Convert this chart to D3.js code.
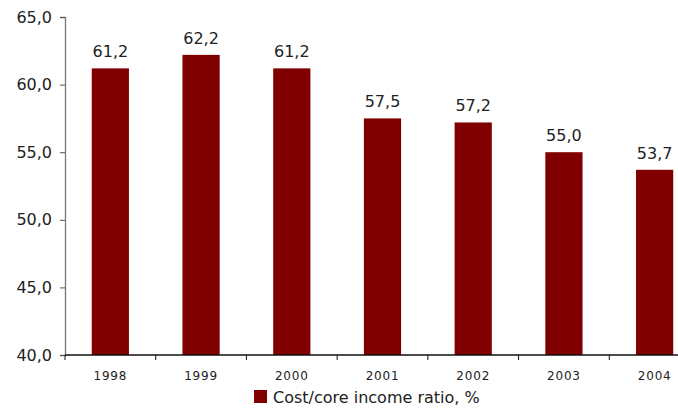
<!DOCTYPE html>
<html>
<head>
<meta charset="utf-8">
<script src="https://cdn.jsdelivr.net/npm/d3@7"></script>
<style>
  html, body { margin: 0; padding: 0; background: #fff; }
  svg text { font-family: "DejaVu Sans", sans-serif; fill: #222; }
</style>
</head>
<body>
<svg id="chart" width="678" height="412"></svg>
<script>
// Cost/core income ratio by year
const years = ["1998", "1999", "2000", "2001", "2002", "2003", "2004"];
const ratios = [61.2, 62.2, 61.2, 57.5, 57.2, 55.0, 53.7];
const yTicks = [40, 45, 50, 55, 60, 65];
const seriesName = "Cost/core income ratio, %";

const fmt = v => d3.format(".1f")(v).replace(".", ",");
const barColor = "#800000";

const svg = d3.select("#chart");
const plotLeft = 65, plotTop = 17, plotBottom = 355, plotRight = 700;

const x = d3.scaleBand().domain(years).range([plotLeft, plotRight]).paddingInner(0.59).paddingOuter(0.295);
const band = d3.scaleBand().domain(years).range([plotLeft, plotRight]);
const y = d3.scaleLinear().domain([40, 65]).range([plotBottom, plotTop]);

// bars
svg.append("g").selectAll("rect").data(years).join("rect")
  .attr("x", (d) => x(d))
  .attr("width", x.bandwidth())
  .attr("y", (d, i) => y(ratios[i]))
  .attr("height", (d, i) => y(40) - y(ratios[i]))
  .attr("fill", barColor);

// value labels
svg.append("g").selectAll("text").data(years).join("text")
  .attr("x", d => x(d) + x.bandwidth() / 2)
  .attr("y", (d, i) => y(ratios[i]) - 11)
  .attr("text-anchor", "middle")
  .style("font-size", "16px")
  .text((d, i) => fmt(ratios[i]));

// y axis
const yAxis = svg.append("g").attr("transform", `translate(${plotLeft},0)`)
  .call(d3.axisLeft(y).tickValues(yTicks).tickFormat(fmt).tickSize(5).tickPadding(8));
yAxis.select(".domain").attr("stroke", "#777").attr("stroke-width", 1.3);
yAxis.selectAll(".tick line").attr("stroke", "#555");
yAxis.selectAll(".tick text").style("font-size", "16px").attr("fill", "#222");

// x axis with ticks at category boundaries
const xg = svg.append("g").attr("transform", `translate(0,${plotBottom})`);
xg.append("line").attr("x1", plotLeft).attr("x2", plotRight).attr("stroke", "#111").attr("stroke-width", 1.3);
xg.selectAll(".bnd").data(years).join("line")
  .attr("x1", d => band(d)).attr("x2", d => band(d))
  .attr("y1", 0).attr("y2", 5).attr("stroke", "#111");
xg.selectAll(".lbl").data(years).join("text")
  .attr("x", d => x(d) + x.bandwidth() / 2)
  .attr("y", 25)
  .attr("text-anchor", "middle")
  .style("font-size", "12px")
  .style("letter-spacing", "0.8px")
  .text(d => d);

// legend
const lg = svg.append("g").attr("transform", "translate(254,390)");
lg.append("rect").attr("width", 13).attr("height", 13).attr("fill", barColor);
lg.append("text").attr("x", 19).attr("y", 13).style("font-size", "16px").text(seriesName);
</script>
</body>
</html>
